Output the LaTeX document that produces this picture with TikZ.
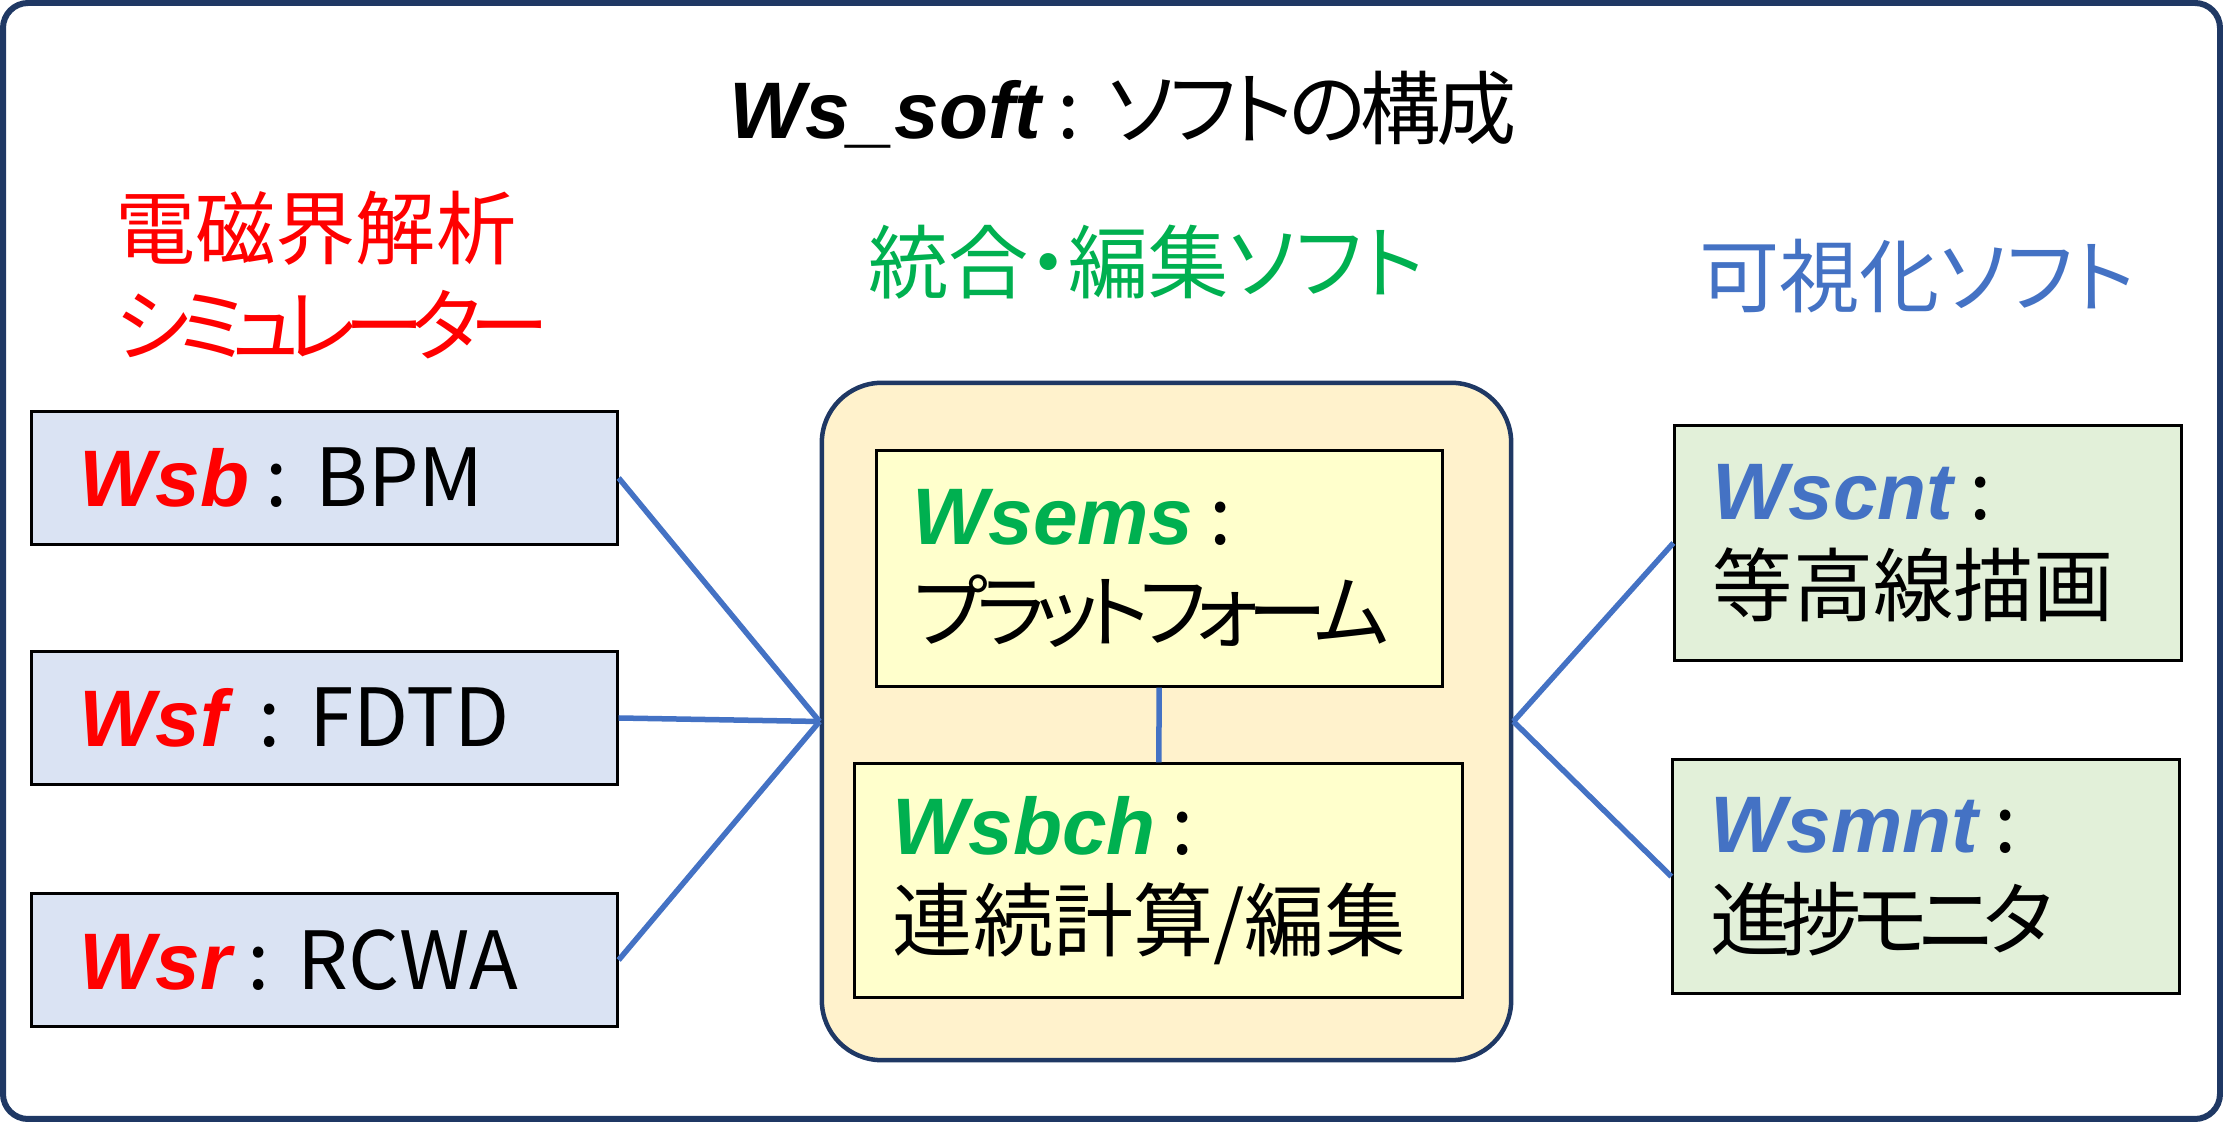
\documentclass[tikz,border=0pt]{standalone}
\usepackage{fontspec}
\setmainfont{Noto Sans CJK JP}[RawFeature=+palt]
\newfontfamily\wfont{Liberation Sans}
\usetikzlibrary{positioning}

\definecolor{wsred}{HTML}{FF0000}
\definecolor{wsgreen}{HTML}{00B050}
\definecolor{wsblue}{HTML}{4472C4}
\definecolor{wsnavy}{HTML}{1F3864}
\definecolor{simfill}{HTML}{DAE3F3}
\definecolor{visfill}{HTML}{E2F0D9}
\definecolor{edfill}{HTML}{FFF2CC}
\definecolor{subfill}{HTML}{FFFFCC}

\newcommand{\wname}[2]{{\wfont\bfseries\itshape\color{#1}#2}}
\newcommand{\cln}[1][0.2em]{\hspace{#1}:\hspace{0.35em}}
\newcommand{\tight}[2]{{\addfontfeatures{LetterSpace=#1}#2}}

\begin{document}
\begin{tikzpicture}[x=0.01cm, y=-0.01cm,
		font=\fontsize{22.8pt}{27.5pt}\selectfont,
		box/.style={draw=black, line width=0.03cm, align=left, inner ysep=0pt},
		simbox/.style={box, fill=simfill, minimum height=1.33cm, inner xsep=0.48cm, text width=4.89cm},
		visbox/.style={box, fill=visfill, minimum height=2.34cm, inner xsep=0.38cm, text width=4.30cm},
		conn/.style={draw=wsblue, line width=0.055cm}]
	\useasboundingbox (0,0) rectangle (2223,1122);
	\draw[wsnavy, line width=0.06cm, rounded corners=0.25cm] (3,3) rectangle (2220,1119);

	% headings
	\node (title) at (1123,110) {\wname{black}{Ws\_soft}\cln\tight{-6}{ソフトの構成}};
	\node[text=wsred, align=left, anchor=west] (simhead) at (103,275) {電磁界解析\\\tight{-15}{シミュレーター}};
	\node[text=wsgreen] (edhead) at (1146,262) {統合・編集ソフト};
	\node[text=wsblue] (vishead) at (1917,276) {可視化ソフト};

	% simulators
	\node[simbox] (wsb) at (324.5,478) {\wname{wsred}{Wsb}\cln BPM};
	\node[simbox] (wsf) at (324.5,718) {\wname{wsred}{Wsf}\cln[0.4em]FDTD};
	\node[simbox] (wsr) at (324.5,960) {\wname{wsred}{Wsr}\cln RCWA};

	% platform
	\node[draw=wsnavy, line width=0.045cm, fill=edfill, rounded corners=0.6cm,
		minimum width=6.89cm, minimum height=6.77cm] (ed) at (1166.5,721.5) {};
	\node[box, fill=subfill, minimum height=2.35cm, inner xsep=0.36cm, text width=4.93cm] (wsems) at (1159.5,568.5)
		{\wname{wsgreen}{Wsems}\cln\\\tight{-13}{プラットフォーム}};
	\node[box, fill=subfill, minimum height=2.33cm, inner xsep=0.38cm, text width=5.31cm] (wsbch) at (1158.5,880.5)
		{\wname{wsgreen}{Wsbch}\cln\\連続計算/編集};
	\draw[conn] (wsems) -- (wsbch);

	% viewers
	\node[visbox] (wscnt) at (1928,543) {\wname{wsblue}{Wscnt}\cln\\等高線描画};
	\node[visbox] (wsmnt) at (1926,876.5) {\wname{wsblue}{Wsmnt}\cln\\\tight{-12}{進捗モニタ}};

	\draw[conn] (wsb.east) -- (ed.west);
	\draw[conn] (wsf.east) -- (ed.west);
	\draw[conn] (wsr.east) -- (ed.west);
	\draw[conn] (wscnt.west) -- (ed.east);
	\draw[conn] (wsmnt.west) -- (ed.east);
\end{tikzpicture}
\end{document}
